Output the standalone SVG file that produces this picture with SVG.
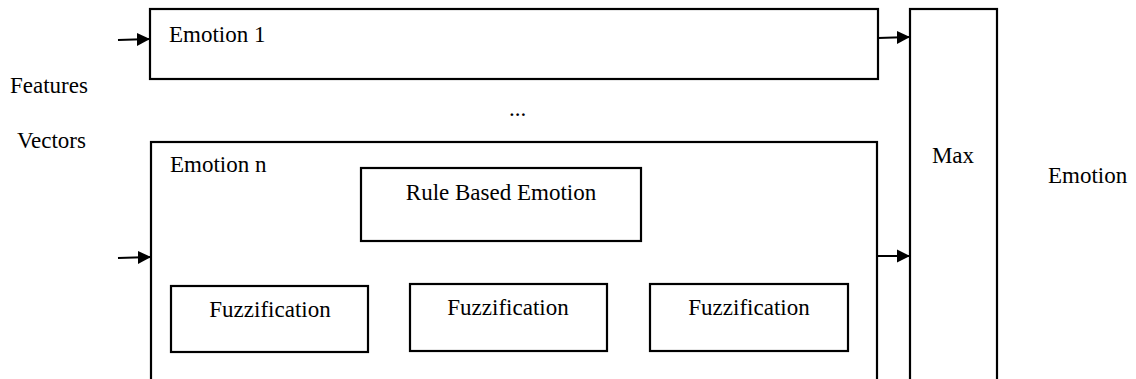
<svg xmlns="http://www.w3.org/2000/svg" width="1136" height="379" viewBox="0 0 1136 379">
<defs>
<style>
.box{fill:#fff;stroke:#000;stroke-width:2.2}
.t{font-family:"Liberation Serif","Times New Roman",serif;font-size:23px;fill:#000}
.c{stroke:#000;stroke-width:2.2;fill:none}
</style>
<marker id="ah" viewBox="0 0 10 10" refX="10" refY="5" markerWidth="6" markerHeight="6" orient="auto" markerUnits="strokeWidth">
<path d="M0,0 L10,5 L0,10 z" fill="#000"/>
</marker>
</defs>
<rect width="1136" height="379" fill="#fff"/>
<g id="labels">
<text class="t" x="10" y="93">Features</text>
<text class="t" x="17" y="148">Vectors</text>
<text class="t" x="509" y="116">...</text>
<text class="t" x="1048" y="183">Emotion</text>
</g>
<g id="emotion1">
<rect class="box" x="150" y="9" width="728" height="70"/>
<text class="t" x="169" y="42">Emotion 1</text>
</g>
<g id="emotionn">
<rect class="box" x="151" y="142" width="726" height="260"/>
<text class="t" x="170" y="172">Emotion n</text>
</g>
<g id="rule">
<rect class="box" x="361" y="168" width="280" height="73"/>
<text class="t" x="501" y="200" text-anchor="middle">Rule Based Emotion</text>
</g>
<g id="fuzz1">
<rect class="box" x="171" y="286" width="197" height="66"/>
<text class="t" x="270" y="317" text-anchor="middle">Fuzzification</text>
</g>
<g id="fuzz2">
<rect class="box" x="410" y="284" width="197" height="67"/>
<text class="t" x="508" y="315" text-anchor="middle">Fuzzification</text>
</g>
<g id="fuzz3">
<rect class="box" x="650" y="284" width="198" height="67"/>
<text class="t" x="749" y="315" text-anchor="middle">Fuzzification</text>
</g>
<g id="max">
<rect class="box" x="910" y="9" width="87" height="400"/>
<text class="t" x="953" y="163" text-anchor="middle">Max</text>
</g>
<g id="connectors">
<line class="c" x1="118" y1="40" x2="150" y2="39" marker-end="url(#ah)"/>
<line class="c" x1="118" y1="258" x2="151" y2="257" marker-end="url(#ah)"/>
<line class="c" x1="878" y1="38" x2="910" y2="37" marker-end="url(#ah)"/>
<line class="c" x1="877" y1="256" x2="910" y2="256" marker-end="url(#ah)"/>
</g>
</svg>
